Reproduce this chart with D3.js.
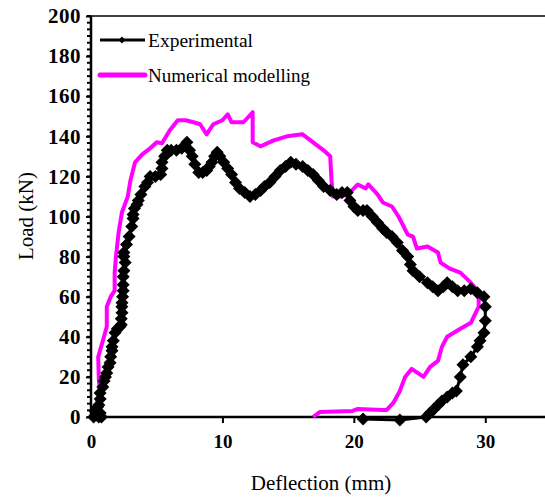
<!DOCTYPE html>
<html><head><meta charset="utf-8">
<script src="https://cdn.jsdelivr.net/npm/d3@7"></script>
<style>body{margin:0;background:#fff}svg{display:block}text{font-family:"Liberation Serif","DejaVu Serif",serif}</style>
</head><body>
<svg id="c" width="545" height="497"></svg>
<script>
const expX = [0.2,0.4,0.3,0.6,0.5,0.7,0.8,0.6,0.7,0.69,0.9,1.0,1.1,1.2,1.3,1.45,1.5,1.6,1.6,1.7,1.83,2.0,2.2,2.3,2.3,2.36,2.35,2.36,2.4,2.45,2.45,2.45,2.5,2.6,2.5,2.5,2.7,2.9,3.1,3.2,3.2,3.3,3.5,3.6,3.8,4.1,4.3,4.5,4.9,5.3,5.4,5.4,5.6,5.8,6.1,6.5,6.9,7.3,7.5,7.7,7.9,8.2,8.5,8.8,9.0,9.2,9.4,9.6,9.8,10.1,10.4,10.7,11.0,11.3,11.7,12.1,12.5,12.9,13.2,13.6,14.0,14.4,14.8,15.2,15.6,16.1,16.5,16.9,17.3,17.7,18.2,18.7,19.1,19.5,19.7,20.0,20.3,20.7,21.0,21.4,21.8,22.2,22.5,22.9,23.3,23.7,24.1,24.3,24.5,25.0,25.6,26.0,26.4,26.8,27.1,27.5,27.9,28.4,28.9,29.4,29.9,30.0,30.0,29.9,29.6,29.4,28.9,28.3,28.1,27.8,27.5,27.1,26.7,26.4,26.1,25.8,25.5,23.5,20.7];
const expY = [0,1,3,0,5,2,0,6,9,12,15,18,20,22,25,27,30,33,35,38,42,44,45,46,49,52,55,57,60,63,66,70,73,77,80,82,86,90,95,99,101,104,106,108,111,115,117,120,120,121,124,127,130,133,133,133,134,137,133,130,126,122,122,123,125,127,130,132,130,127,124,121,117,114,112,110,111,113,115,117,120,123,125,127,126,125,123,121,118,115,113,111,112,112,108,105,103,103,103,100,97,94,92,90,87,83,80,76,73,70,67,65,63,65,67,65,63,63,64,62,60,55,48,42,38,35,30,26,20,13,12,10,8,6,4,2,0,-1.5,-1];
const numX = [0.3,0.5,0.7,0.6,0.55,0.9,1.2,1.2,1.5,1.8,1.8,1.9,2.1,2.35,2.8,3.0,3.35,3.9,4.5,5.0,5.4,6.0,6.6,7.2,7.8,8.3,8.8,9.3,10.0,10.4,10.7,11.6,12.3,12.3,12.9,13.9,14.9,16.1,16.9,17.7,18.2,18.3,18.4,19.1,19.7,20.3,20.9,21.1,21.8,22.2,22.9,23.4,24.1,24.5,24.8,25.6,26.4,26.6,27.3,28.1,28.9,29.4,29.5,29.5,28.9,28.1,27.1,26.7,26.4,25.8,25.3,24.4,23.9,23.5,23.0,22.5,22.2,20.3,19.9,17.4,16.9];
const numY = [3,8,12,18,30,38,45,55,60,63,72,80,92,102,110,118,127,131,134,137,136.5,143,148,148,147,146,141,146,148,151,147,147,152,137,135,138,140,141,137,133,130,118,110,110,112,116,114,116,111,107,105,100,91,90,84,85,82,77,74,72,67,63,59,55,47,44,40,35,28,25,20,24,20,13,7,3.5,3.5,4,3,2.5,0];
const xTicks = [0,10,20,30];
const yTicks = [0,20,40,60,80,100,120,140,160,180,200];
const seriesNames = ["Experimental","Numerical modelling"];

const svg = d3.select("#c");
const x = d3.scaleLinear().domain([0,35]).range([91,551]);
const y = d3.scaleLinear().domain([0,200]).range([417,16]);
const serif = '"Liberation Serif","DejaVu Serif",serif';

const minor = d3.range(0,200.01,20/6);
svg.append("g").selectAll("line").data(minor).join("line")
  .attr("x1",87).attr("x2",91).attr("y1",d=>y(d)).attr("y2",d=>y(d))
  .attr("stroke","#000").attr("stroke-width",2);

svg.append("line").attr("x1",91).attr("x2",551).attr("y1",y(200)).attr("y2",y(200)).attr("stroke","#000").attr("stroke-width",1.3);

const ya = d3.axisLeft(y).tickValues(yTicks).tickSize(5).tickPadding(5);
const gy = svg.append("g").attr("transform","translate(91,0)").call(ya);
gy.attr("font-family",null);
gy.select(".domain").attr("stroke-width",2.5).attr("d","M0,16V417");
gy.selectAll(".tick line").attr("stroke-width",2);
gy.selectAll("text").style("font-family",serif).style("font-weight","bold").style("font-size","21px").attr("fill","#000").style("letter-spacing","0.5px");

const xa = d3.axisBottom(x).tickValues(xTicks).tickSize(6).tickPadding(12);
const gx = svg.append("g").attr("transform","translate(0,417)").call(xa);
gx.attr("font-family",null);
gx.select(".domain").attr("stroke-width",2.5).attr("d","M91,0H551");
gx.selectAll(".tick line").attr("stroke-width",2);
gx.selectAll(".tick").filter(d=>d===0).select("line").remove();
gx.selectAll("text").style("font-family",serif).style("font-weight","bold").style("font-size","19px").attr("fill","#000");

svg.append("text").attr("x",321).attr("y",490).attr("text-anchor","middle")
  .style("font-family",serif).style("font-size","21px").text("Deflection (mm)");
svg.append("text").attr("transform","translate(33,216) rotate(-90)").attr("text-anchor","middle")
  .style("font-family",serif).style("font-size","21px").text("Load (kN)");

const line = d3.line().x(d=>x(d[0])).y(d=>y(d[1]));
const expData = expX.map((v,i)=>[v,expY[i]]);
const numData = numX.map((v,i)=>[v,numY[i]]);

svg.append("path").datum(numData).attr("d",line).attr("fill","none")
  .attr("stroke","#ff00ff").attr("stroke-width",4).attr("stroke-linejoin","round");
svg.append("path").datum(expData).attr("d",line).attr("fill","none")
  .attr("stroke","#000").attr("stroke-width",3).attr("stroke-linejoin","round");
const dia = r => `M0,${-r}L${r},0L0,${r}L${-r},0Z`;
svg.append("g").selectAll("path").data(expData).join("path")
  .attr("transform",d=>`translate(${x(d[0])},${y(d[1])})`)
  .attr("d",dia(6.5)).attr("fill","#000");

const lg = svg.append("g");
lg.append("line").attr("x1",100).attr("x2",145).attr("y1",40).attr("y2",40).attr("stroke","#000").attr("stroke-width",3);
lg.append("path").attr("transform","translate(122,40)").attr("d",dia(3.5)).attr("fill","#000");
lg.append("text").attr("x",148).attr("y",47).style("font-family",serif).style("font-size","19.5px").text(seriesNames[0]);
lg.append("line").attr("x1",100).attr("x2",145).attr("y1",75).attr("y2",75).attr("stroke","#ff00ff").attr("stroke-width",5).attr("stroke-linecap","round");
lg.append("text").attr("x",148).attr("y",82).style("font-family",serif).style("font-size","19px").text(seriesNames[1]);
</script>
</body></html>
